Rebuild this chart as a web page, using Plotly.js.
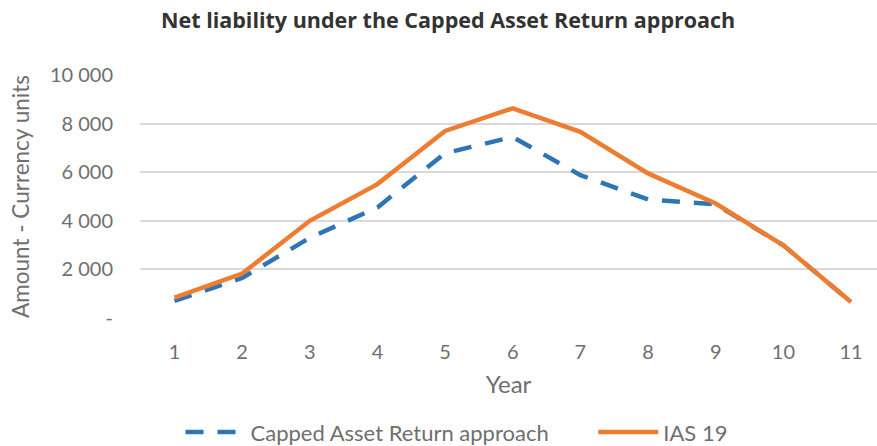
<!DOCTYPE html>
<html>
<head>
<meta charset="utf-8">
<script src="https://cdn.plot.ly/plotly-3.0.1.min.js"></script>
<style>html,body{margin:0;padding:0;background:#fff;}#chart{width:877px;height:446px;}</style>
</head>
<body>
<div id="chart"></div>
<script>
const years = [1, 2, 3, 4, 5, 6, 7, 8, 9, 10, 11];
const cappedAssetReturn = [700, 1650, 3300, 4550, 6780, 7450, 5880, 4880, 4680, 2990, 660];
const ias19 = [840, 1830, 4000, 5510, 7700, 8630, 7660, 5950, 4710, 2990, 660];
const yTickVals = [0, 2000, 4000, 6000, 8000, 10000];
const yTickText = ["-", "2 000", "4 000", "6 000", "8 000", "10 000"];

const FONT = "Lato, 'Open Sans', sans-serif";
const GRAY = "#6f6f6f";

const traces = [
  {
    x: years, y: cappedAssetReturn, type: "scatter", mode: "lines",
    name: "Capped Asset Return approach", legend: "legend",
    line: {color: "#2E75B6", width: 4.5, dash: "18px,14px"}
  },
  {
    x: years, y: ias19, type: "scatter", mode: "lines",
    name: "IAS 19", legend: "legend2",
    line: {color: "#ED7D31", width: 4.5}
  }
];

const legendCommon = {
  orientation: "h", xanchor: "left", y: -0.47, yanchor: "middle",
  font: {family: FONT, size: 22, color: GRAY},
  itemwidth: 60, bgcolor: "rgba(0,0,0,0)"
};

const layout = {
  width: 877, height: 446,
  paper_bgcolor: "#ffffff", plot_bgcolor: "#ffffff",
  margin: {l: 140, r: 0, t: 75, b: 128, autoexpand: false},
  font: {family: FONT, color: GRAY},
  title: {
    text: "Net liability under the Capped Asset Return approach",
    font: {family: "'Open Sans', sans-serif", size: 21.5, color: "#333333", weight: 700},
    x: 0.511, xref: "container", xanchor: "center", y: 0.955, yanchor: "middle"
  },
  xaxis: {
    range: [0.49, 11.384], automargin: false,
    tickvals: years, ticktext: years.map(String),
    showgrid: false, zeroline: false, showline: false,
    ticks: "", ticklabelstandoff: 20,
    tickfont: {family: FONT, size: 20, color: GRAY},
    title: {text: "Year", font: {family: FONT, size: 24, color: GRAY}, standoff: 14}
  },
  yaxis: {
    range: [0, 10000], automargin: false,
    tickvals: yTickVals, ticktext: yTickText,
    showgrid: true, gridcolor: "#d9d9d9", gridwidth: 1.5,
    zeroline: false, showline: false,
    ticks: "", ticklabelstandoff: 26,
    tickfont: {family: FONT, size: 20, color: GRAY},
    title: {text: "Amount - Currency units", font: {family: FONT, size: 22.5, color: GRAY}, standoff: 14}
  },
  showlegend: true,
  legend: Object.assign({}, legendCommon, {x: 0.055}),
  legend2: Object.assign({}, legendCommon, {x: 0.615})
};

Plotly.newPlot("chart", traces, layout, {displayModeBar: false, responsive: false});
</script>
</body>
</html>
